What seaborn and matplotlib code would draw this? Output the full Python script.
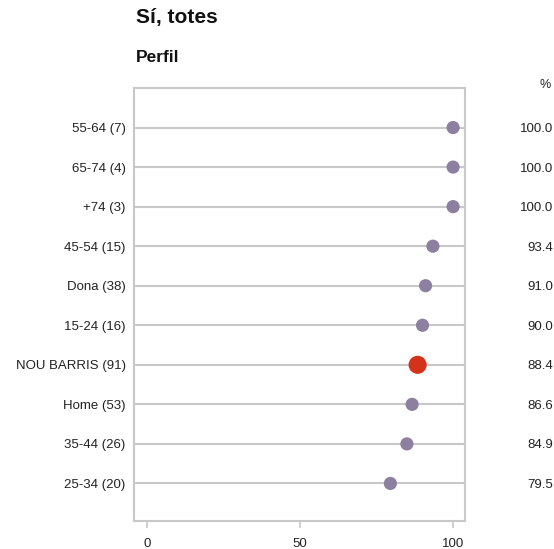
import numpy as np
import pandas as pd
import seaborn as sns
import matplotlib.pyplot as plt

# Data
labels = ['55-64 (7)', '65-74 (4)', '+74 (3)', '45-54 (15)', 'Dona (38)',
          '15-24 (16)', 'NOU BARRIS (91)', 'Home (53)', '35-44 (26)', '25-34 (20)']
values = [100.0, 100.0, 100.0, 93.4, 91.0, 90.0, 88.4, 86.6, 84.9, 79.5]
groups = ['perfil'] * 6 + ['total'] + ['perfil'] * 3
x_ticks = [0, 50, 100]

df = pd.DataFrame({'label': labels, 'value': values, 'group': groups})
df['pos'] = np.arange(len(df))

sns.set_style('white')
plt.rcParams['font.family'] = ['Liberation Sans', 'DejaVu Sans']

fig = plt.figure(figsize=(5.54, 5.49), dpi=100)
ax = fig.add_axes([0.2419, 0.051, 0.5975, 0.7887])

grey = '#c8c8c8'
ax.hlines(df['pos'], -4.3, 103.9, color=grey, lw=1.5, zorder=1)

sns.scatterplot(data=df, x='value', y='pos', hue='group', size='group',
                hue_order=['perfil', 'total'],
                palette={'perfil': '#8c7fa0', 'total': '#d4321a'},
                sizes={'perfil': 90, 'total': 170},
                edgecolor='none', legend=False, zorder=3, ax=ax)

ax.set_xlim(-4.3, 103.9)
ax.set_ylim(df['pos'].max() + 0.95, -1.0)
ax.set_xticks(x_ticks)
ax.set_xticklabels([str(t) for t in x_ticks], fontsize=9.5, color='#222222')
ax.set_yticks(df['pos'])
ax.set_yticklabels(df['label'], fontsize=9.5, color='#222222')
ax.tick_params(axis='x', length=5, width=1.2, color=grey, pad=7, bottom=True)
ax.tick_params(axis='y', length=0, pad=6)
ax.set_xlabel('')
ax.set_ylabel('')
for s in ax.spines.values():
    s.set_color(grey)
    s.set_linewidth(1.5)

# value column on the right
for p, v in zip(df['pos'], df['value']):
    ax.text(1.266, p, f'{v:.1f}', transform=ax.get_yaxis_transform(),
            ha='right', va='center_baseline', fontsize=9.5, color='#222222')
fig.text(545 / 554, 1 - 85 / 549, '%', ha='center', va='center', fontsize=9,
         color='#222222')

fig.text(0.245, 1 - 18 / 549, 'Sí, totes', fontsize=15, fontweight='bold',
         ha='left', va='center', color='#111111')
fig.text(0.245, 1 - 57 / 549, 'Perfil', fontsize=12.5, fontweight='bold',
         ha='left', va='center', color='#111111')

fig.savefig('out.png', dpi=100)
